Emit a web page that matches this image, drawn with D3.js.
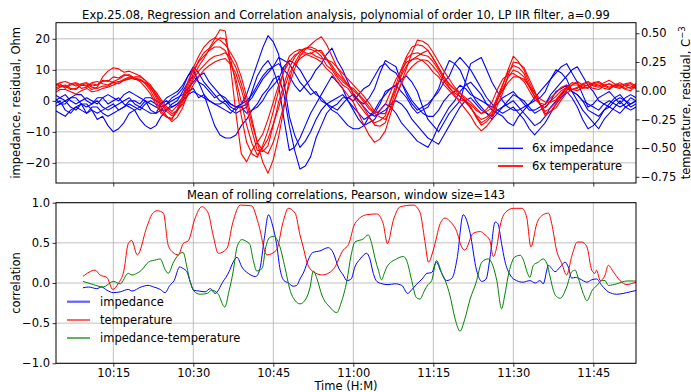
<!DOCTYPE html>
<html>
<head>
<meta charset="utf-8">
<script src="https://cdn.jsdelivr.net/npm/d3@7"></script>
<style>
body { margin: 0; background: #fff; }
svg { font-family: "DejaVu Sans", sans-serif; }
</style>
</head>
<body>
<script>
// ---- data ----
// top panel: residuals sampled every minute, starting 10:04
var sampleStart = 4;   // minutes after 10:00
var sampleStep = 1;

// impedance residuals, Ohm (6 runs)
var imp1 = [-1, 0, -3, -4, -2, -1, -4, -3, -6, -5, -8, -10, -9, -7, -4, -3, -2, 0, -3, -4, -1, 0, -2, -1, 1, 3, 4, 1, 2, 0, -1, -2, -3, -4, -2, -1, 0, 2, 5, 8, 10, 11, 14, 13, 12, 9, 6, 4, 2, 3, 0, -1, -2, -3, -1, 1, 2, 0, -2, -4, -5, -4, -3, -1, 0, -1, -3, -6, -8, -10, -12, -13, -14, -11, -8, -5, -2, 0, 1, -1, -3, -4, -5, -3, -2, -1, 0, -2, -4, -6, -8, -7, -5, -2, 0, 2, 4, 3, 2, 0, -3, -4, -5, -3, -2, -3, -4, -2, -1, 0, -2];
var imp2 = [1, -1, -1, 1, 2, 2, 0, -1, 1, 1, -1, 0, 1, -1, -2, -3, -6, -8, -9, -8, -5, -3, -1, 0, 3, 6, 8, 6, 5, 3, 1, 2, 0, -1, -2, -2, -4, -3, -1, 2, 4, 7, 8, 2, -8, -16, -22, -21, -18, -12, -8, -4, -2, -1, 1, 1, 0, 2, 4, 5, 8, 11, 12, 10, 9, 6, 3, 0, -2, -4, -5, -5, -3, 0, 2, 3, 5, 4, 2, 1, 0, -1, -2, -1, 1, 2, 3, 1, -1, -3, -3, -2, -1, 2, 4, 6, 8, 10, 11, 8, 5, 3, 0, -1, -2, 0, 1, 0, -2, -1, 0];
var imp3 = [-2, -1, 0, -2, -3, -1, -1, -3, -4, -3, -2, -1, -3, -2, 0, 0, -1, 1, 1, 0, -1, 1, 2, 3, 5, 8, 10, 6, 2, -3, -8, -11, -12, -12, -11, -8, -6, -3, -2, 0, 3, 5, 7, 11, 13, 12, 10, 7, 4, 2, 1, -1, -3, -4, -6, -8, -9, -9, -8, -5, -3, 0, 2, 4, 5, 3, 1, -2, -4, -3, -2, 1, 3, 6, 8, 12, 14, 12, 10, 7, 4, 1, -1, -3, -4, -3, -2, -4, -6, -9, -11, -9, -7, -4, -1, 1, 3, 1, -2, -6, -9, -8, -6, -3, -1, 1, 2, 0, -1, 0, 1];
var imp4 = [0, 1, 2, 0, -1, 0, 1, 0, -1, 1, 2, 1, 0, 2, 3, 2, 1, 0, -1, -2, -3, -3, -2, -1, 0, 2, 3, 2, 1, 0, -1, -1, 0, -2, -3, -1, 2, 7, 12, 17, 21, 19, 15, 6, -5, -11, -15, -13, -10, -6, -3, -1, 0, 1, 2, 0, -2, -4, -6, -5, -4, -1, 3, 4, 5, 7, 8, 6, 3, -2, -6, -8, -10, -7, -4, -2, 0, 6, 12, 13, 14, 10, 6, 3, 0, -2, -3, -3, -2, -1, 1, 3, 5, 7, 9, 11, 12, 9, 6, 2, -2, -1, 1, 2, 3, 1, -1, 1, 2, 1, 0];
var imp5 = [-3, -4, -5, -3, -2, -3, -4, -2, -2, -4, -5, -4, -3, -2, -1, -2, -3, -1, 0, -1, -2, -1, 1, 2, 4, 8, 11, 9, 6, 4, 2, 0, -1, -3, -4, -3, -2, 3, 8, 11, 13, 10, 5, -6, -16, -15, -12, -8, -4, -1, 2, 5, 8, 6, 4, 0, -3, -6, -8, -7, -6, -3, -1, -2, -4, -7, -9, -11, -13, -14, -15, -12, -8, -5, -2, 0, 3, 5, 6, 4, 2, -1, -3, -4, -5, -7, -8, -5, -3, -1, 0, 1, 3, 7, 10, 9, 7, 3, 0, -3, -5, -7, -9, -6, -4, -2, 0, -2, -3, -2, -1];
var imp6 = [2, 1, 0, 1, 1, -1, -2, -1, 0, -2, -3, -2, -1, 0, 1, -1, -2, -3, -4, -4, -3, -1, 0, 1, 2, 4, 6, 8, 9, 6, 4, 2, 1, -1, -2, -2, -1, 1, 4, 7, 9, 11, 12, 10, 8, 5, 3, 5, 7, 10, 12, 15, 17, 13, 10, 6, 2, 0, -1, 1, 4, 9, 13, 12, 11, 6, 2, -1, -3, -2, -1, 1, 4, 9, 13, 12, 10, 6, 3, 0, -2, -4, -6, -4, -2, 0, 2, 1, 0, -2, -4, -3, -2, 0, 3, 4, 5, 3, 2, 0, -1, -2, -3, -1, 0, -1, -2, -1, 1, 0, -1];

// temperature residuals, C (6 runs)
var temp1 = [0.04, 0.06, 0.02, 0.05, 0.06, 0.02, 0.03, 0.06, 0.05, 0.09, 0.08, 0.12, 0.11, 0.14, 0.13, 0.10, 0.10, 0.07, 0.02, -0.04, -0.12, -0.18, -0.22, -0.17, -0.08, 0.04, 0.15, 0.26, 0.33, 0.37, 0.45, 0.53, 0.52, 0.20, -0.20, -0.55, -0.62, -0.52, -0.45, -0.38, -0.25, -0.10, 0.05, 0.17, 0.25, 0.31, 0.33, 0.37, 0.36, 0.34, 0.30, 0.22, 0.18, 0.11, 0.05, 0.02, -0.05, -0.12, -0.18, -0.24, -0.28, -0.26, -0.22, -0.08, 0.05, 0.19, 0.30, 0.38, 0.40, 0.39, 0.35, 0.28, 0.20, 0.12, 0.05, 0.01, -0.05, -0.09, -0.15, -0.21, -0.25, -0.23, -0.18, -0.05, 0.05, 0.16, 0.22, 0.20, 0.15, 0.04, -0.05, -0.12, -0.15, -0.09, -0.05, 0.00, 0.03, 0.07, 0.06, 0.03, 0.02, 0.06, 0.05, 0.02, 0.01, 0.05, 0.04, 0.01, 0.00, 0.04, 0.03];
var temp2 = [0.02, 0.04, 0.05, 0.02, 0.01, 0.05, 0.04, 0.01, 0.03, 0.12, 0.17, 0.20, 0.19, 0.16, 0.17, 0.15, 0.13, 0.09, 0.03, -0.06, -0.15, -0.22, -0.27, -0.23, -0.15, -0.02, 0.10, 0.17, 0.22, 0.27, 0.30, 0.31, 0.33, 0.29, 0.20, 0.06, -0.10, -0.29, -0.45, -0.52, -0.55, -0.45, -0.30, -0.12, 0.05, 0.19, 0.30, 0.36, 0.40, 0.44, 0.47, 0.40, 0.30, 0.20, 0.12, 0.05, 0.00, -0.04, -0.10, -0.16, -0.20, -0.17, -0.12, -0.01, 0.10, 0.18, 0.25, 0.27, 0.28, 0.26, 0.22, 0.16, 0.12, 0.05, 0.00, -0.05, -0.08, -0.09, -0.12, -0.17, -0.20, -0.16, -0.10, 0.01, 0.10, 0.14, 0.15, 0.12, 0.08, 0.00, -0.08, -0.11, -0.12, -0.06, -0.02, 0.03, 0.05, 0.01, 0.02, 0.05, 0.07, 0.04, 0.03, 0.05, 0.06, 0.03, 0.02, 0.05, 0.04, 0.02, 0.01];
var temp3 = [-0.02, 0.01, 0.01, -0.01, -0.03, 0.00, 0.02, -0.01, 0.00, 0.02, 0.03, 0.05, 0.07, 0.10, 0.12, 0.11, 0.10, 0.06, 0.00, -0.09, -0.18, -0.23, -0.25, -0.16, -0.05, 0.08, 0.20, 0.30, 0.38, 0.43, 0.46, 0.44, 0.40, 0.33, 0.25, 0.12, -0.05, -0.25, -0.45, -0.62, -0.72, -0.60, -0.40, -0.15, 0.10, 0.24, 0.32, 0.32, 0.30, 0.28, 0.25, 0.19, 0.15, 0.08, 0.02, -0.04, -0.10, -0.20, -0.30, -0.39, -0.45, -0.42, -0.35, -0.20, -0.05, 0.07, 0.20, 0.33, 0.44, 0.43, 0.40, 0.33, 0.25, 0.17, 0.10, 0.03, -0.02, -0.06, -0.10, -0.15, -0.20, -0.18, -0.15, -0.07, 0.00, 0.07, 0.12, 0.12, 0.10, 0.04, -0.02, -0.07, -0.10, -0.10, -0.08, -0.02, 0.02, 0.05, 0.05, 0.02, 0.03, 0.06, 0.07, 0.04, 0.02, 0.04, 0.05, 0.02, 0.03, 0.06, 0.05];
var temp4 = [0.06, 0.04, 0.03, 0.06, 0.07, 0.05, 0.04, 0.07, 0.08, 0.06, 0.05, 0.08, 0.10, 0.13, 0.14, 0.11, 0.08, 0.03, -0.03, -0.12, -0.20, -0.23, -0.24, -0.18, -0.10, 0.01, 0.12, 0.21, 0.28, 0.36, 0.42, 0.46, 0.45, 0.28, 0.05, -0.22, -0.45, -0.55, -0.58, -0.48, -0.35, -0.18, 0.00, 0.17, 0.30, 0.34, 0.36, 0.33, 0.32, 0.35, 0.35, 0.28, 0.22, 0.15, 0.10, 0.05, -0.02, -0.08, -0.15, -0.23, -0.30, -0.31, -0.28, -0.14, 0.00, 0.15, 0.28, 0.32, 0.33, 0.31, 0.30, 0.25, 0.18, 0.10, 0.03, -0.04, -0.10, -0.16, -0.22, -0.30, -0.35, -0.31, -0.25, -0.13, -0.02, 0.13, 0.25, 0.24, 0.20, 0.10, 0.00, -0.12, -0.22, -0.18, -0.12, -0.05, 0.00, 0.05, 0.08, 0.05, 0.04, 0.02, 0.01, 0.04, 0.06, 0.04, 0.03, 0.05, 0.06, 0.03, 0.02];
var temp5 = [0.00, 0.03, 0.04, 0.01, 0.02, 0.05, 0.06, 0.03, 0.02, 0.04, 0.04, 0.07, 0.08, 0.09, 0.10, 0.12, 0.12, 0.09, 0.05, -0.03, -0.10, -0.16, -0.20, -0.17, -0.12, -0.04, 0.05, 0.12, 0.18, 0.22, 0.25, 0.27, 0.28, 0.23, 0.15, 0.01, -0.15, -0.35, -0.52, -0.53, -0.48, -0.30, -0.10, 0.06, 0.20, 0.29, 0.35, 0.37, 0.38, 0.36, 0.33, 0.27, 0.20, 0.13, 0.08, 0.04, 0.02, -0.03, -0.08, -0.14, -0.20, -0.23, -0.25, -0.16, -0.05, 0.06, 0.15, 0.21, 0.25, 0.27, 0.26, 0.21, 0.15, 0.08, 0.02, -0.02, -0.05, -0.10, -0.15, -0.22, -0.28, -0.25, -0.20, -0.08, 0.02, 0.11, 0.18, 0.16, 0.12, 0.03, -0.05, -0.12, -0.18, -0.15, -0.10, -0.03, 0.03, 0.01, 0.00, 0.03, 0.05, 0.07, 0.08, 0.05, 0.03, 0.05, 0.07, 0.04, 0.02, 0.04, 0.04];
var temp6 = [0.05, 0.07, 0.08, 0.06, 0.04, 0.06, 0.07, 0.04, 0.05, 0.08, 0.09, 0.07, 0.06, 0.09, 0.11, 0.10, 0.09, 0.07, 0.04, -0.01, -0.08, -0.14, -0.18, -0.13, -0.06, 0.07, 0.18, 0.25, 0.30, 0.35, 0.38, 0.38, 0.35, 0.24, 0.10, -0.10, -0.30, -0.46, -0.56, -0.50, -0.42, -0.29, -0.15, 0.01, 0.15, 0.23, 0.28, 0.31, 0.33, 0.30, 0.28, 0.27, 0.25, 0.20, 0.15, 0.10, 0.05, 0.00, -0.05, -0.11, -0.18, -0.20, -0.20, -0.09, 0.02, 0.13, 0.22, 0.27, 0.30, 0.33, 0.35, 0.28, 0.20, 0.12, 0.06, 0.01, -0.02, -0.08, -0.14, -0.23, -0.30, -0.27, -0.22, -0.09, 0.05, 0.18, 0.30, 0.25, 0.18, 0.07, -0.02, -0.11, -0.20, -0.18, -0.15, -0.08, -0.02, 0.01, 0.03, 0.06, 0.08, 0.05, 0.04, 0.07, 0.09, 0.06, 0.05, 0.06, 0.07, 0.04, 0.03];

// bottom panel: mean rolling correlations (minutes after 10:00, value)
var corrImpMin = [9.3, 10.4, 11.9, 12.8, 13.8, 15.0, 16.3, 17.8, 18.5, 20.2, 21.5, 22.6, 23.8, 24.7, 25.6, 26.4, 27.45, 28.1, 28.8, 29.4, 30.1, 31.1, 32.2, 33.2, 34.1, 35.5, 36.7, 37.4, 38.2, 39.1, 40.3, 41.7, 42.5, 43.3, 44.1, 44.85, 45.6, 46.3, 47.0, 47.85, 48.7, 49.4, 50.0, 50.8, 51.5, 52.4, 53.75, 55.3, 56.2, 57.3, 58.1, 58.8, 59.6, 60.3, 61.3, 62.5, 63.1, 63.75, 64.4, 65.4, 66.5, 67.8, 69.1, 70.2, 71.0, 71.8, 72.9, 73.8, 74.7, 75.6, 76.3, 77.5, 78.5, 79.45, 80.6, 81.9, 83.1, 84.1, 84.9, 85.6, 86.6, 87.1, 87.8, 88.4, 89.4, 90.6, 91.8, 93.1, 94.1, 95.0, 95.6, 96.6, 97.2, 97.8, 98.8, 99.7, 100.3, 100.95, 101.6, 102.5, 103.8, 104.7, 105.6, 106.6, 107.8, 109.4, 110.6, 111.9, 113.2];
var corrImp = [-0.06, -0.05, -0.07, -0.05, -0.09, -0.12, -0.11, -0.08, -0.10, -0.05, -0.03, -0.05, -0.08, -0.12, -0.03, 0.03, 0.20, 0.18, 0.14, 0.02, -0.09, -0.10, -0.11, -0.07, -0.13, 0.01, 0.14, 0.25, 0.32, 0.20, 0.12, 0.08, 0.18, 0.55, 0.85, 0.72, 0.49, 0.16, 0.03, 0.00, -0.04, -0.03, 0.05, 0.15, 0.28, 0.38, 0.40, 0.44, 0.38, 0.18, 0.10, 0.03, 0.05, 0.20, 0.30, 0.37, 0.30, 0.12, 0.02, -0.01, -0.02, -0.01, -0.03, -0.13, -0.08, -0.02, 0.05, 0.12, 0.13, 0.26, 0.16, 0.03, 0.06, 0.30, 0.85, 0.62, 0.16, 0.02, 0.05, 0.30, 0.76, 0.74, 0.49, 0.28, 0.10, 0.03, 0.01, 0.03, 0.00, 0.03, -0.01, 0.22, 0.18, 0.14, 0.20, 0.26, 0.20, 0.06, 0.07, 0.05, 0.01, 0.04, 0.05, -0.03, -0.11, -0.14, -0.13, -0.11, -0.09];

var corrTempMin = [9.3, 11.6, 12.5, 13.8, 14.9, 15.9, 17.0, 17.8, 18.45, 19.5, 21.3, 22.3, 23.25, 24.4, 25.3, 26.2, 27.2, 28.1, 29.1, 30.3, 31.6, 32.8, 33.7, 34.7, 36.3, 37.4, 38.8, 40.95, 42.2, 43.8, 45.6, 46.8, 47.8, 49.1, 50.0, 50.6, 51.3, 52.5, 54.2, 56.25, 58.1, 59.1, 60.3, 62.5, 64.4, 65.6, 66.4, 67.5, 68.8, 71.25, 72.5, 73.4, 74.1, 75.0, 76.3, 77.2, 78.1, 79.4, 80.3, 80.9, 82.5, 83.8, 84.7, 85.6, 86.25, 86.9, 87.5, 88.4, 90.0, 91.6, 92.5, 93.3, 94.4, 95.6, 96.6, 97.2, 98.1, 99.1, 100.0, 100.95, 102.0, 102.8, 103.8, 104.7, 105.3, 105.6, 106.3, 107.2, 107.8, 108.75, 110.0, 111.3, 112.5, 113.2];
var corrTemp = [0.08, 0.16, 0.10, 0.07, -0.08, -0.01, 0.16, 0.49, 0.53, 0.35, 0.70, 0.86, 0.90, 0.87, 0.47, 0.38, 0.35, 0.49, 0.53, 0.80, 0.95, 0.87, 0.60, 0.37, 0.43, 0.75, 0.97, 0.96, 0.74, 0.35, 0.41, 0.75, 0.93, 0.87, 0.60, 0.45, 0.26, 0.14, 0.10, 0.17, 0.41, 0.48, 0.74, 0.85, 0.86, 0.74, 0.49, 0.78, 0.95, 0.97, 0.88, 0.53, 0.26, 0.41, 0.74, 0.81, 0.77, 0.64, 0.45, 0.41, 0.62, 0.64, 0.60, 0.53, 0.33, 0.45, 0.70, 0.87, 0.93, 0.93, 0.82, 0.45, 0.74, 0.85, 0.87, 0.74, 0.41, 0.24, 0.10, 0.33, 0.51, 0.51, 0.45, 0.16, 0.12, 0.16, 0.03, 0.10, 0.22, 0.14, 0.03, -0.02, 0.00, 0.01];

var corrCrossMin = [9.3, 11.25, 13.1, 15.0, 16.3, 17.8, 18.5, 19.4, 20.3, 21.6, 23.1, 23.8, 24.7, 25.3, 26.3, 27.2, 28.1, 28.8, 29.4, 30.1, 31.3, 32.6, 33.4, 34.6, 35.9, 36.7, 37.5, 38.2, 39.1, 39.9, 40.6, 41.25, 41.9, 42.9, 43.6, 44.4, 45.1, 46.1, 47.2, 48.1, 49.1, 50.0, 51.1, 51.9, 52.5, 53.2, 54.1, 55.6, 56.9, 57.7, 58.8, 59.6, 60.3, 61.9, 62.8, 63.45, 64.1, 64.7, 65.3, 65.8, 66.3, 68.1, 69.4, 70.0, 70.95, 71.8, 72.5, 73.3, 74.0, 74.7, 75.6, 76.6, 77.4, 78.1, 79.1, 80.0, 80.9, 81.9, 83.0, 84.1, 85.3, 86.25, 86.9, 87.8, 88.4, 89.0, 90.3, 91.3, 91.8, 92.8, 93.1, 93.75, 94.7, 95.6, 96.3, 96.9, 97.5, 98.1, 98.8, 100.0, 100.95, 101.6, 102.2, 103.1, 103.8, 104.8, 105.7, 106.6, 107.2, 107.8, 109.4, 111.3, 112.5, 113.2];
var corrCross = [0.02, -0.02, -0.05, 0.02, -0.01, 0.12, 0.10, 0.12, 0.16, 0.26, 0.29, 0.30, 0.17, 0.12, 0.26, 0.35, 0.38, 0.20, 0.02, -0.10, -0.14, -0.13, -0.09, -0.13, -0.30, -0.10, 0.15, 0.45, 0.54, 0.52, 0.48, 0.28, 0.15, 0.18, 0.45, 0.57, 0.58, 0.48, 0.19, -0.08, -0.22, -0.26, -0.20, -0.05, 0.15, 0.05, -0.15, -0.30, -0.37, -0.25, 0.03, 0.35, 0.51, 0.55, 0.60, 0.49, 0.30, 0.16, 0.04, 0.12, 0.20, 0.30, 0.33, 0.28, 0.03, -0.18, -0.20, -0.10, -0.02, 0.03, 0.28, 0.12, 0.00, -0.15, -0.45, -0.60, -0.45, -0.20, 0.00, 0.26, 0.30, 0.20, 0.03, -0.32, -0.15, 0.075, 0.325, 0.345, 0.30, 0.10, 0.07, 0.22, 0.26, 0.30, 0.24, 0.075, -0.09, -0.17, -0.19, -0.05, 0.14, 0.16, 0.055, -0.13, -0.22, -0.09, -0.03, 0.03, 0.03, -0.03, -0.01, 0.025, 0.025, 0.02];

// tick values
var timeTicks = [15, 30, 45, 60, 75, 90, 105];   // 10:15 ... 11:45
var impTicks = [-20, -10, 0, 10, 20];
var tempTicks = [-0.75, -0.5, -0.25, 0, 0.25, 0.5];
var corrTicks = [-1, -0.5, 0, 0.5, 1];

var impedanceRuns = [imp1, imp2, imp3, imp4, imp5, imp6];
var temperatureRuns = [temp1, temp2, temp3, temp4, temp5, temp6];

// ---- layout ----
var width = 691, height = 392;
var left = 56, right = 636;
var topPane = { top: 22.7, bottom: 183 };
var lowPane = { top: 202.7, bottom: 363.3 };
var fontSize = 11.5;
var gridColor = "#b0b0b0";

var day = new Date(2000, 0, 1, 10, 0, 0);
function atMinute(m) { return new Date(day.getTime() + m * 60000); }

var x = d3.scaleTime()
	.domain([atMinute(4.26), atMinute(113)])
	.range([left, right]);

var yImp = d3.scaleLinear().domain([-26.5, 25.2]).range([topPane.bottom, topPane.top]);
var yTemp = d3.scaleLinear().domain([-0.804, 0.592]).range([topPane.bottom, topPane.top]);
var yCorr = d3.scaleLinear().domain([-1, 1]).range([lowPane.bottom, lowPane.top]);

var svg = d3.select("body")
	.append("svg")
	.attr("width", width)
	.attr("height", height);

// clip paths so lines stay inside each pane
var defs = svg.append("defs");
[["clipTop", topPane], ["clipLow", lowPane]].forEach(function(c) {
	defs.append("clipPath").attr("id", c[0])
		.append("rect")
		.attr("x", left).attr("y", c[1].top)
		.attr("width", right - left).attr("height", c[1].bottom - c[1].top);
});

function styleAxis(g) {
	g.select(".domain").remove();
	g.selectAll(".tick line").attr("stroke", "#000").attr("stroke-width", 0.8);
	g.selectAll(".tick text")
		.attr("fill", "#000")
		.attr("font-size", fontSize)
		.attr("font-family", "DejaVu Sans, sans-serif");
}

function grid(pane, yScale, yTicks) {
	var g = svg.append("g").attr("stroke", gridColor).attr("stroke-width", 0.8);
	g.selectAll("line.v").data(timeTicks).enter()
		.append("line")
		.attr("x1", function(d) { return x(atMinute(d)); })
		.attr("x2", function(d) { return x(atMinute(d)); })
		.attr("y1", pane.top).attr("y2", pane.bottom);
	g.selectAll("line.h").data(yTicks).enter()
		.append("line")
		.attr("x1", left).attr("x2", right)
		.attr("y1", function(d) { return yScale(d); })
		.attr("y2", function(d) { return yScale(d); });
}

grid(topPane, yImp, impTicks);
grid(lowPane, yCorr, corrTicks);

// ---- top pane: residual runs ----
var sampleLine = function(yScale) {
	return d3.line()
		.x(function(d, i) { return x(atMinute(sampleStart + i * sampleStep)); })
		.y(function(d) { return yScale(d); });
};

var topLines = svg.append("g").attr("clip-path", "url(#clipTop)");

topLines.selectAll("path.imp")
	.data(impedanceRuns)
	.enter()
		.append("path")
		.attr("d", sampleLine(yImp))
		.attr("fill", "none")
		.attr("stroke", "#0000ff")
		.attr("stroke-width", 1.1)
		.attr("stroke-linejoin", "round");

topLines.selectAll("path.temp")
	.data(temperatureRuns)
	.enter()
		.append("path")
		.attr("d", sampleLine(yTemp))
		.attr("fill", "none")
		.attr("stroke", "#ff0000")
		.attr("stroke-width", 1.1)
		.attr("stroke-linejoin", "round");

// ---- bottom pane: correlations ----
var corrSeries = [
	{ name: "impedance", minutes: corrImpMin, values: corrImp, color: "#0000ff" },
	{ name: "temperature", minutes: corrTempMin, values: corrTemp, color: "#ff0000" },
	{ name: "impedance-temperature", minutes: corrCrossMin, values: corrCross, color: "#008000" }
];

var corrLine = d3.line()
	.curve(d3.curveMonotoneX)
	.x(function(d) { return x(atMinute(d[0])); })
	.y(function(d) { return yCorr(d[1]); });

svg.append("g").attr("clip-path", "url(#clipLow)")
	.selectAll("path")
	.data(corrSeries)
	.enter()
		.append("path")
		.attr("d", function(s) { return corrLine(d3.zip(s.minutes, s.values)); })
		.attr("fill", "none")
		.attr("stroke", function(s) { return s.color; })
		.attr("stroke-width", 1);

// ---- frames and axes ----
[topPane, lowPane].forEach(function(p) {
	svg.append("rect")
		.attr("x", left).attr("y", p.top)
		.attr("width", right - left).attr("height", p.bottom - p.top)
		.attr("fill", "none").attr("stroke", "#000").attr("stroke-width", 1);
});

var xTickVals = timeTicks.map(atMinute);

svg.append("g")
	.attr("transform", "translate(0," + topPane.bottom + ")")
	.call(d3.axisBottom(x).tickValues(xTickVals).tickSize(3.5).tickFormat(""))
	.call(styleAxis);

svg.append("g")
	.attr("transform", "translate(0," + lowPane.bottom + ")")
	.call(d3.axisBottom(x).tickValues(xTickVals).tickSize(3.5).tickPadding(1.7).tickFormat(d3.timeFormat("%H:%M")))
	.call(styleAxis);

svg.append("g")
	.attr("transform", "translate(" + left + ",0)")
	.call(d3.axisLeft(yImp).tickValues(impTicks).tickSize(3.5).tickPadding(2.5).tickFormat(d3.format("d")))
	.call(styleAxis);

svg.append("g")
	.attr("transform", "translate(" + right + ",0)")
	.call(d3.axisRight(yTemp).tickValues(tempTicks).tickSize(3.5).tickPadding(1.5).tickFormat(d3.format(".2f")))
	.call(styleAxis);

svg.append("g")
	.attr("transform", "translate(" + left + ",0)")
	.call(d3.axisLeft(yCorr).tickValues(corrTicks).tickSize(3.5).tickPadding(2.5).tickFormat(d3.format(".1f")))
	.call(styleAxis);

// ---- texts ----
var mid = (left + right) / 2;

function label(txt, xPos, yPos, rotate) {
	return svg.append("text")
		.attr("transform", "translate(" + xPos + "," + yPos + ")" + (rotate ? " rotate(-90)" : ""))
		.attr("text-anchor", "middle")
		.attr("font-size", fontSize)
		.attr("fill", "#000")
		.text(txt);
}

label("Exp.25.08, Regression and Correlation analysis, polynomial of order 10, LP IIR filter, a=0.99", mid, 19, false);
label("Mean of rolling correlations, Pearson, window size=143", mid, 198.5, false);
label("Time (H:M)", mid, 390, false);
label("impedance, residual, Ohm", 19.5, (topPane.top + topPane.bottom) / 2, true);
label("correlation", 19.5, (lowPane.top + lowPane.bottom) / 2, true);

var tempLabel = label("temperature, residual, C", 689.5, (topPane.top + topPane.bottom) / 2, true);
tempLabel.append("tspan")
	.attr("dy", -4.5)
	.attr("font-size", 8.5)
	.text("\u22123");

// ---- legends ----
var topLegend = [
	{ name: "6x impedance", color: "#0000ff", w: 1.3, y: 148.3 },
	{ name: "6x temperature", color: "#ff2020", w: 2, y: 166 }
];
var lowLegend = [
	{ name: "impedance", color: "#6060ff", w: 2.2, y: 301.7 },
	{ name: "temperature", color: "#ff0000", w: 1.2, y: 320 },
	{ name: "impedance-temperature", color: "#3c9c3c", w: 1.6, y: 338 }
];

function legend(items, x0, x1, xt) {
	var g = svg.append("g");
	var rows = g.selectAll("g").data(items).enter().append("g");
	rows.append("line")
		.attr("x1", x0).attr("x2", x1)
		.attr("y1", function(d) { return d.y; })
		.attr("y2", function(d) { return d.y; })
		.attr("stroke", function(d) { return d.color; })
		.attr("stroke-width", function(d) { return d.w; });
	rows.append("text")
		.attr("x", xt)
		.attr("y", function(d) { return d.y + 4; })
		.attr("font-size", fontSize)
		.attr("fill", "#000")
		.text(function(d) { return d.name; });
}

legend(topLegend, 498, 523, 532);
legend(lowLegend, 67, 90, 100);
</script>
</body>
</html>
